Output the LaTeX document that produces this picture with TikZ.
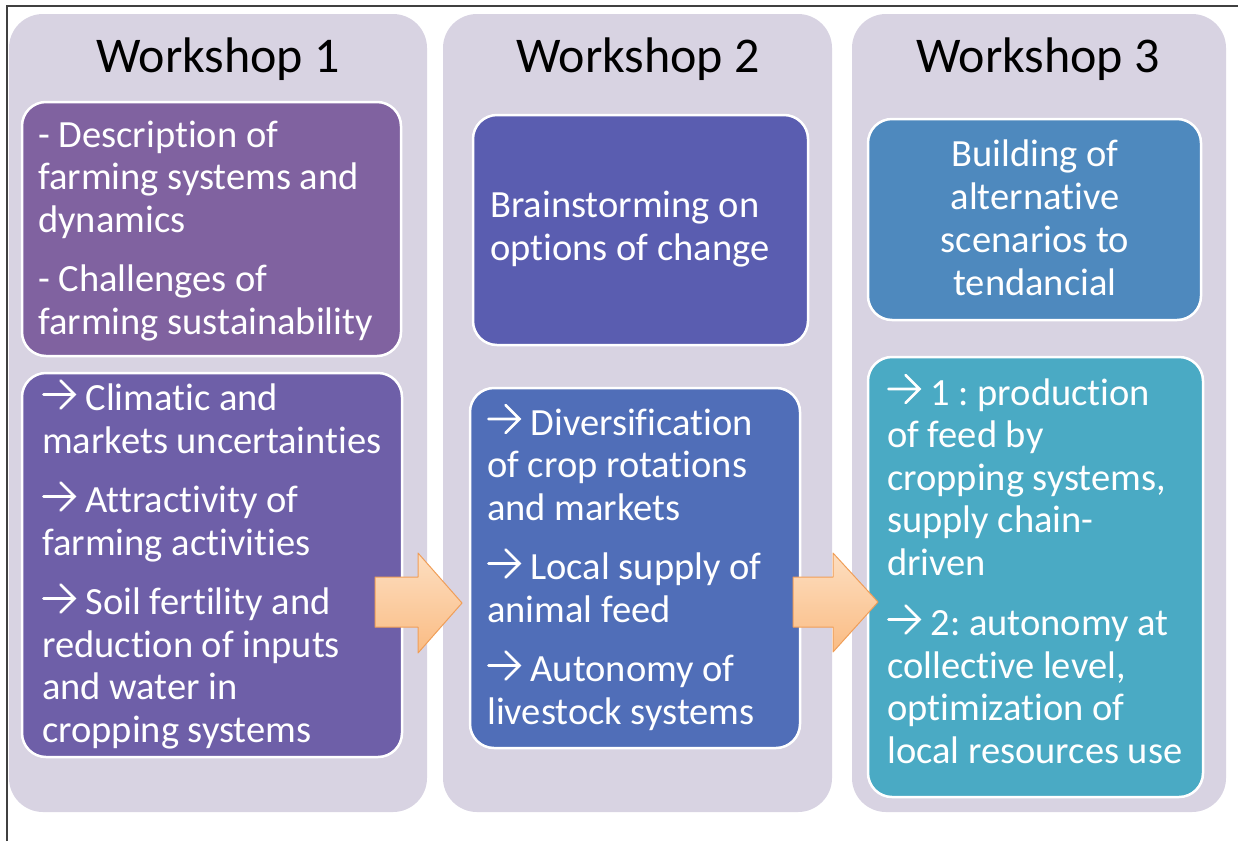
\documentclass[tikz,border=0pt]{standalone}
\usepackage{fontspec}
\setmainfont{Carlito}[Ligatures=NoCommon]
\frenchspacing
% small open-headed arrow used as a bullet
\newcommand\wsarrow{\tikz[x=1pt,y=1pt,baseline=0pt]\draw[white,line width=2.6pt,line cap=round,line join=miter] (1,16)--(32,16) (18,30)--(32,16)--(18,2);\hspace{1pt}}
\definecolor{panelc}{RGB}{216,211,226}
\definecolor{cardA}{RGB}{128,98,160}
\definecolor{cardB}{RGB}{110,95,168}
\definecolor{cardC}{RGB}{90,93,176}
\definecolor{cardD}{RGB}{80,110,184}
\definecolor{cardE}{RGB}{78,137,190}
\definecolor{cardF}{RGB}{74,170,196}
\definecolor{arrowtop}{RGB}{253,222,192}
\definecolor{arrowbot}{RGB}{250,188,132}
\definecolor{arrowline}{RGB}{240,158,88}
\definecolor{framec}{RGB}{64,64,64}
\begin{document}
\begin{tikzpicture}[x=1pt,y=-1pt,
  panel/.style={fill=panelc, draw=none, rounded corners=34pt},
  card/.style={draw=white, line width=2.5pt, rounded corners=24pt},
  wtitle/.style={font=\fontsize{50}{58}\selectfont, text=black, anchor=base, inner sep=0pt},
  body/.style={font=\fontsize{38.5}{42.5}\selectfont\frenchspacing, text=white, align=left, anchor=base west, inner sep=0pt},
  bodyc/.style={font=\fontsize{38.5}{42.7}\selectfont\frenchspacing, text=white, align=center, anchor=base, inner sep=0pt},
  blockarrow/.style={top color=arrowtop, bottom color=arrowbot, draw=arrowline, line width=1pt, line join=round}
]
\useasboundingbox (0,0) rectangle (1238,841);

% outer frame (left and top edges)
\draw[framec, line width=2pt] (7,841) -- (7,6) -- (1238,6);

% workshop columns
\path[panel] (9,14) rectangle (427,812);
\path[panel] (443,14) rectangle (832,812);
\path[panel] (852,14) rectangle (1226,812);

\node[wtitle] (t1) at (218,72) {Workshop 1};
\node[wtitle] (t2) at (638,72) {Workshop 2};
\node[wtitle] (t3) at (1038,72) {Workshop 3};

% cards
\draw[card, fill=cardA] (22,102) rectangle (401,356);
\draw[card, fill=cardB] (22,373) rectangle (402,757);
\draw[card, fill=cardC] (473,115) rectangle (808,345);
\draw[card, fill=cardD] (470,388) rectangle (800,748);
\draw[card, fill=cardE] (868,119) rectangle (1201,320);
\draw[card, fill=cardF] (868,357) rectangle (1203,797);

% card texts (each node is placed by the baseline of its last line)
\node[body] (a1) at (38,334) {- Description of\\ farming systems and\\ dynamics\\[17pt] - Challenges of\\ farming sustainability};
\node[body] (a2) at (42,742) {\wsarrow{} Climatic and\\ markets uncertainties\\[17pt] \wsarrow{} Attractivity of\\ farming activities\\[17pt] \wsarrow{} Soil fertility and\\ reduction of inputs\\ and water in\\ cropping systems};
\node[body] (b1) at (490,260) {Brainstorming on\\ options of change};
\node[body] (b2) at (487,724) {\wsarrow{} Diversification\\ of crop rotations\\ and markets\\[17pt] \wsarrow{} Local supply of\\ animal feed\\[17pt] \wsarrow{} Autonomy of\\ livestock systems};
\node[bodyc] (c1) at (1035,295) {Building of\\ alternative\\ scenarios to\\ tendancial};
\node[body] (c2) at (887,763) {\wsarrow{} 1 : production\\ of feed by\\ cropping systems,\\ supply chain-\\ driven\\[18pt] \wsarrow{} 2: autonomy at\\ collective level,\\ optimization of\\ local resources use};

% block arrows between workshops
\draw[blockarrow] (375,577) -- (418,577) -- (418,553) -- (462,603) -- (418,653) -- (418,627) -- (375,627) -- cycle;
\draw[blockarrow] (793,577) -- (833,577) -- (833,553) -- (878,602) -- (833,652) -- (833,627) -- (793,627) -- cycle;
\end{tikzpicture}
\end{document}
